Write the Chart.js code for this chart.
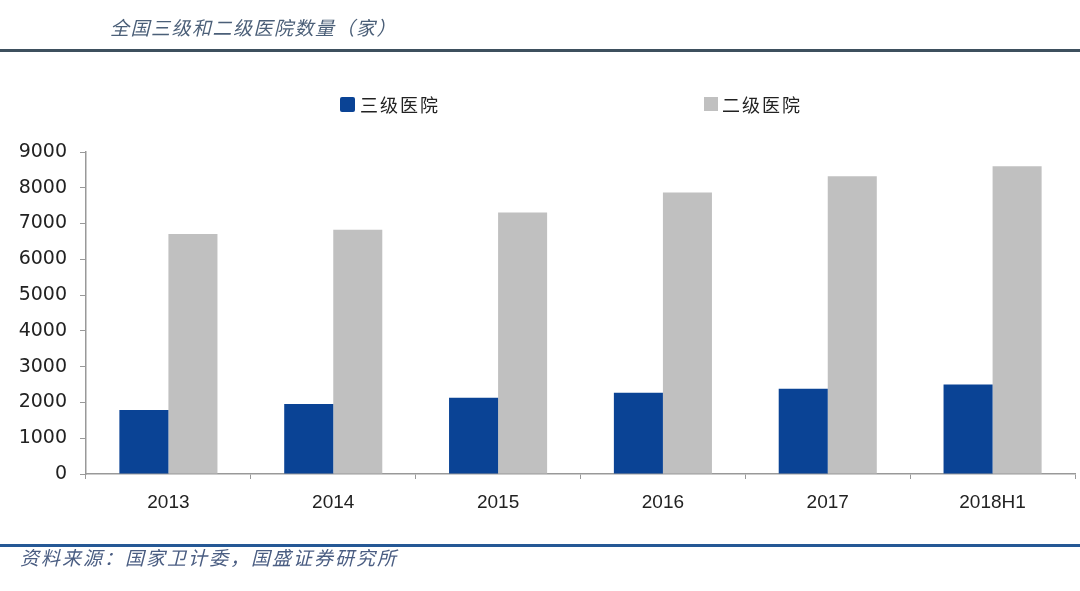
<!DOCTYPE html>
<html>
<head>
<meta charset="utf-8">
<script src="https://cdn.jsdelivr.net/npm/chart.js@4/dist/chart.umd.min.js"></script>
<style>
  body { margin: 0; background: #fff; }
  #wrap { position: relative; width: 1080px; height: 591px; overflow: hidden; }
  #canvas { position: absolute; left: 0; top: 0; }
  .cn { position: absolute; font-family: "Noto Sans CJK SC", sans-serif; white-space: nowrap; }
  #title { left: 110px; top: 13px; font-size: 19px; letter-spacing: 1.5px; font-style: italic; color: #4b5f78; }
  #caption { left: 20px; top: 543px; font-size: 19px; letter-spacing: 2px; font-style: italic; color: #4a5d82; }
  #topline { position: absolute; left: 0; top: 49px; width: 1080px; height: 3px; background: #3e505e; }
  #botline { position: absolute; left: 0; top: 544px; width: 1080px; height: 3px; background: #255895; }
  .sw { position: absolute; width: 15px; height: 15px; }
  .lg { font-size: 18px; letter-spacing: 2px; color: #222; top: 91px; }
</style>
</head>
<body>
<div id="wrap">
  <canvas id="canvas" width="1080" height="591"></canvas>
  <div id="title" class="cn">全国三级和二级医院数量（家）</div>
  <div id="topline"></div>
  <div class="sw" style="left:340px;top:97px;background:#0a4395;border-radius:2px;"></div>
  <div class="cn lg" style="left:360px;">三级医院</div>
  <div class="sw" style="left:704px;top:97px;background:#c0c0c0;width:14px;height:14px;"></div>
  <div class="cn lg" style="left:722px;">二级医院</div>
  <div id="botline"></div>
  <div id="caption" class="cn">资料来源：国家卫计委，国盛证券研究所</div>
</div>
<script>
var years = ['2013', '2014', '2015', '2016', '2017', '2018H1'];
var tier3 = [1790, 1960, 2130, 2270, 2380, 2500];
var tier2 = [6710, 6830, 7310, 7870, 8320, 8600];
var yTicks = [0, 1000, 2000, 3000, 4000, 5000, 6000, 7000, 8000, 9000];

var ctx = document.getElementById("canvas");
window.myBar = new Chart(ctx, {
  type: 'bar',
  data: {
    labels: years,
    datasets: [{
      label: '三级医院',
      data: tier3,
      backgroundColor: '#0a4395',
      categoryPercentage: 0.595,
      barPercentage: 1.0
    }, {
      label: '二级医院',
      data: tier2,
      backgroundColor: '#c0c0c0',
      categoryPercentage: 0.595,
      barPercentage: 1.0
    }]
  },
  options: {
    responsive: false,
    animation: false,
    layout: { padding: { top: 152, right: 5, bottom: 77, left: 0 } },
    plugins: { legend: { display: false }, tooltip: { enabled: false } },
    scales: {
      x: {
        grid: { display: true, drawOnChartArea: false, tickLength: 5, color: '#999' },
        border: { color: '#999', width: 1.5 },
        ticks: { color: '#222', font: { family: 'Liberation Sans', size: 19 }, padding: 12 },
        afterFit: function(s) { s.height = 40; }
      },
      y: {
        min: 0,
        max: 9000,
        afterBuildTicks: function(s) { s.ticks = yTicks.map(function(v) { return { value: v }; }); },
        grid: { display: true, drawOnChartArea: false, tickLength: 6, color: '#999' },
        border: { color: '#999', width: 1.5 },
        ticks: {
          color: '#222',
          font: { family: 'DejaVu Sans', size: 19 },
          padding: 13,
          callback: function(v) { return String(v); }
        },
        afterFit: function(s) { s.width = 86; }
      }
    }
  }
});
</script>
</body>
</html>
